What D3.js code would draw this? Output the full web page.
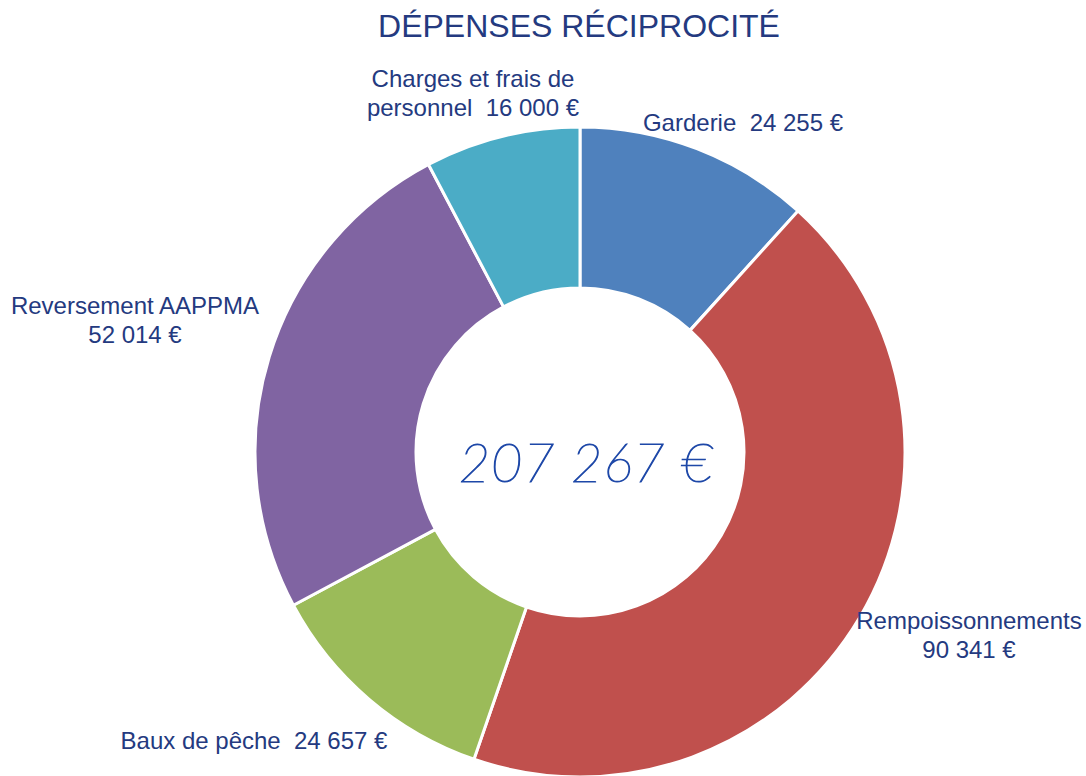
<!DOCTYPE html>
<html>
<head>
<meta charset="utf-8">
<script src="https://cdn.jsdelivr.net/npm/d3@7"></script>
<style>
  html, body { margin: 0; padding: 0; background: #fff; }
  svg { display: block; }
  text { white-space: pre; }
</style>
</head>
<body>
<svg id="chart" width="1086" height="776"></svg>
<script>
// Postes de dépenses (euros), dans l'ordre horaire depuis midi
const categories = ["Garderie", "Rempoissonnements", "Baux de pêche", "Reversement AAPPMA", "Charges et frais de personnel"];
const values = [24255, 90341, 24657, 52014, 16000];
const colors = ["#4F81BD", "#C0504D", "#9BBB59", "#8064A2", "#4BACC6"];

// Étiquettes : lignes de texte et position de chaque bloc
const labelLines = [
  ["Garderie  24 255 €"],
  ["Rempoissonnements", "90 341 €"],
  ["Baux de pêche  24 657 €"],
  ["Reversement AAPPMA", "52 014 €"],
  ["Charges et frais de", "personnel  16 000 €"]
];
const labelPos = [[743, 122], [969, 620], [254, 740], [135, 305], [473, 78]];

const fmt = v => d3.format(",")(v).replace(/,/g, " ") + " €";
const total = d3.sum(values);

const W = 1086, H = 776;
const cx = 580, cy = 452, rOuter = 325, rInner = 164;
const textColor = "#243A80";

const svg = d3.select("#chart");

svg.append("text")
  .attr("x", 579).attr("y", 37)
  .attr("text-anchor", "middle")
  .attr("font-family", "'Liberation Sans', Arial, sans-serif")
  .attr("font-size", 32)
  .attr("fill", textColor)
  .text("DÉPENSES RÉCIPROCITÉ");

const pie = d3.pie().sort(null).value(d => d);
const arc = d3.arc().innerRadius(rInner).outerRadius(rOuter);

const g = svg.append("g").attr("transform", `translate(${cx},${cy})`);
g.selectAll("path")
  .data(pie(values))
  .join("path")
  .attr("d", arc)
  .attr("fill", (d, i) => colors[i])
  .attr("stroke", "#fff")
  .attr("stroke-width", 3)
  .attr("stroke-linejoin", "round");

// Libellés des secteurs
const lab = svg.append("g")
  .attr("font-family", "'Liberation Sans', Arial, sans-serif")
  .attr("font-size", 24)
  .attr("fill", textColor)
  .attr("text-anchor", "middle");
labelLines.forEach((lines, i) => {
  const t = lab.append("text")
    .attr("x", labelPos[i][0])
    .attr("y", labelPos[i][1])
    .attr("dominant-baseline", "central");
  lines.forEach((ln, j) => {
    t.append("tspan")
      .attr("x", labelPos[i][0])
      .attr("dy", j === 0 ? 0 : 29)
      .text(ln);
  });
});

// Total au centre, tracé fin
svg.append("text")
  .attr("x", cx + 6).attr("y", 482)
  .attr("text-anchor", "middle")
  .attr("font-family", "Lato, sans-serif")
  .attr("font-style", "italic")
  .attr("font-weight", 100)
  .attr("font-size", 54)
  .attr("letter-spacing", 1)
  .attr("fill", "#1E48A8")
  .attr("stroke", "#1E48A8")
  .attr("stroke-width", 1.2)
  .text(fmt(total));
</script>
</body>
</html>
